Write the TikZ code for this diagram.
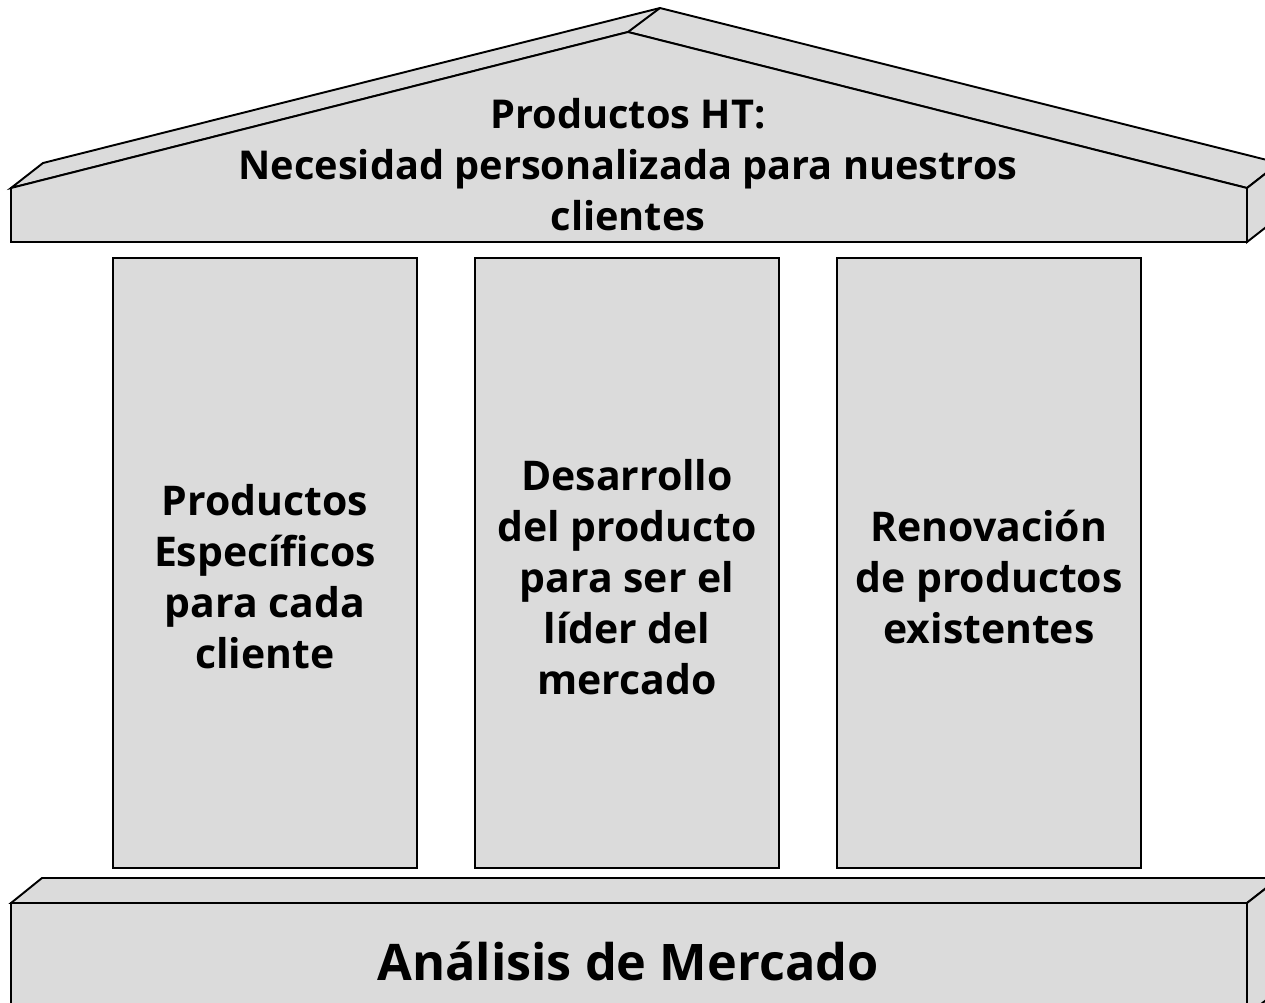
\documentclass[tikz,border=0pt]{standalone}
\usepackage{fontspec}
\setmainfont{Open Sans}
\usetikzlibrary{positioning}

\begin{document}
\begin{tikzpicture}[x=0.02cm,y=-0.02cm]
\tikzset{
  facefill/.style={fill=black!14,draw=black,line width=1.1pt,line join=miter},
  pillar/.style={rectangle,fill=black!14,draw=black,line width=0.9pt,minimum width=6.08cm,minimum height=12.2cm,inner sep=0pt},
  pillartext/.style={align=center,font=\bfseries\fontsize{23.3}{29}\selectfont,inner sep=0pt},
  rooftext/.style={align=center,font=\bfseries\fontsize{22.6}{29}\selectfont,inner sep=0pt},
  basetext/.style={font=\bfseries\fontsize{28.7}{36}\selectfont,inner sep=0pt}
}
\useasboundingbox (0,0) rectangle (1265,1002);
\clip (0,0) rectangle (1265,1002);
% roof
\draw[facefill] (11,188) -- (43,163) -- (660,8) -- (1279,163) -- (1247,188) -- (628,32) -- cycle;
\draw[facefill] (628,32) -- (660,8);
\draw[facefill] (1247,188) -- (1279,163) -- (1279,217) -- (1247,242) -- cycle;
\draw[facefill] (11,242) -- (11,188) -- (628,32) -- (1247,188) -- (1247,242) -- cycle;
\node[rooftext] (roof) at (628,165) {Productos HT:\\Necesidad personalizada para nuestros\\clientes};
% pillars
\node[pillar] (p_left) at (265,563) {};
\node[pillar] (p_mid) at (627,563) {};
\node[pillar] (p_right) at (989,563) {};
\node[pillartext] (t_left) at (265,577) {Productos\\Específicos\\para cada\\cliente};
\node[pillartext] (t_mid) at (627,577) {Desarrollo\\del producto\\para ser el\\líder del\\mercado};
\node[pillartext] (t_right) at (989,577) {Renovación\\de productos\\existentes};
% base
\draw[facefill] (11,903) -- (42,878) -- (1279,878) -- (1247,903) -- cycle;
\draw[facefill] (1247,903) -- (1279,878) -- (1279,990) -- (1247,1015) -- cycle;
\draw[facefill] (11,1015) -- (11,903) -- (1247,903) -- (1247,1015) -- cycle;
\node[basetext,anchor=base] (base) at (628,980) {Análisis de Mercado};
\end{tikzpicture}
\end{document}
